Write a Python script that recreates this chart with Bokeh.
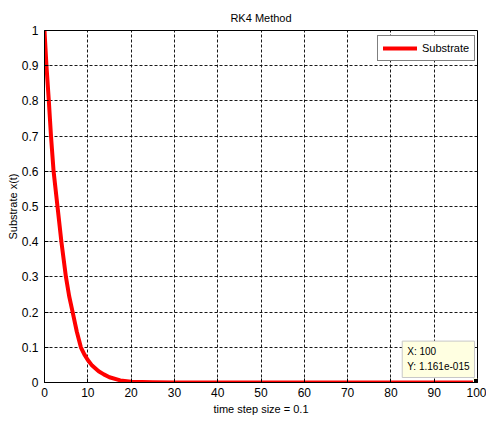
from bokeh.plotting import figure
from bokeh.models import (FixedTicker, CustomJSTickFormatter, Label, Legend, LegendItem,
                          ColumnDataSource)
from bokeh.embed import file_html
from bokeh.resources import INLINE

# ---- data ----
time = [0, 0.45, 1.0, 1.5, 2.1, 3.0, 3.9, 4.95, 5.7, 6.5, 7.45, 8.4, 9.2, 10, 11,
        12.5, 13.7, 15, 17.5, 20, 25, 30, 40, 50, 60, 70, 80, 90, 100]
substrate = [1.0, 0.9, 0.8, 0.7, 0.6, 0.5, 0.4, 0.3, 0.245, 0.2, 0.145, 0.1, 0.08,
             0.064, 0.048, 0.032, 0.023, 0.015, 0.006, 0.002, 0.0005, 0, 0, 0, 0, 0,
             0, 0, 1.161e-15]
x_ticks = [0, 10, 20, 30, 40, 50, 60, 70, 80, 90, 100]
y_ticks = [0, 0.1, 0.2, 0.3, 0.4, 0.5, 0.6, 0.7, 0.8, 0.9, 1.0]
tip_x = [time[-1]]
tip_y = [substrate[-1]]
tip_text = "X: 100\nY: 1.161e-015"

FONT = "Liberation Sans"

p = figure(width=486, height=422, x_range=(0, 100), y_range=(0, 1),
           output_backend="svg", toolbar_location=None,
           min_border_left=44, min_border_right=9, min_border_top=30, min_border_bottom=40,
           title="RK4 Method")
p.background_fill_color = "white"
p.border_fill_color = "white"
p.outline_line_color = "black"
p.outline_line_width = 1
p.outline_line_alpha = 1

p.title.align = "center"
p.title.text_font = FONT
p.title.text_font_size = "11px"
p.title.text_font_style = "normal"
p.title.text_color = "black"
p.title.standoff = 14

for ax in (p.xaxis[0], p.yaxis[0]):
    ax.axis_line_color = "black"
    ax.axis_line_width = 1
    ax.major_tick_in = 4
    ax.major_tick_out = 0
    ax.minor_tick_line_color = None
    ax.major_tick_line_color = "black"
    ax.major_label_text_font = FONT
    ax.major_label_text_font_size = "12px"
    ax.major_label_text_color = "black"
    ax.axis_label_text_font = FONT
    ax.axis_label_text_font_size = "11px"
    ax.axis_label_text_font_style = "normal"
    ax.axis_label_text_color = "black"

p.xaxis.ticker = FixedTicker(ticks=x_ticks)
p.yaxis.ticker = FixedTicker(ticks=y_ticks)
p.yaxis.formatter = CustomJSTickFormatter(code="return Number(tick.toFixed(1)).toString();")
p.xaxis.axis_label = "time step size = 0.1"
p.yaxis.axis_label = "Substrate x(t)"
p.xaxis.major_label_standoff = 5
p.yaxis.major_label_standoff = 6
p.xaxis.axis_label_standoff = 3
p.yaxis.axis_label_standoff = 0

for g in (p.xgrid[0], p.ygrid[0]):
    g.grid_line_color = "black"
    g.grid_line_dash = "3 2"
    g.grid_line_width = 1
    g.grid_line_alpha = 0.9
p.xgrid.ticker = FixedTicker(ticks=x_ticks)
p.ygrid.ticker = FixedTicker(ticks=y_ticks)

src = ColumnDataSource(dict(t=time, s=substrate))
r = p.line("t", "s", source=src, line_color="#ff0000", line_width=4,
           line_join="round", line_cap="round")

p.scatter(tip_x, tip_y, marker="square", size=8, fill_color="black",
          line_color="#ffffe0", line_width=1)

tip = Label(x=tip_x[0], y=tip_y[0], x_offset=-3, y_offset=5, text=tip_text,
            anchor="bottom_right", text_font=FONT, text_font_size="10px",
            text_line_height=1.4, text_color="black", background_fill_color="#ffffe1",
            border_line_color="#c8c8c8", border_line_width=1, padding=5)
p.add_layout(tip)

legend = Legend(items=[LegendItem(label="Substrate", renderers=[r])],
                location=(333, 321), margin=0, padding=5, spacing=0,
                glyph_width=34, glyph_height=14, label_standoff=5,
                label_text_font=FONT, label_text_font_size="11px",
                label_text_color="black", border_line_color="black",
                border_line_width=1, background_fill_color="white",
                background_fill_alpha=1)
p.add_layout(legend)

open("out.html", "w").write(file_html(p, INLINE))
